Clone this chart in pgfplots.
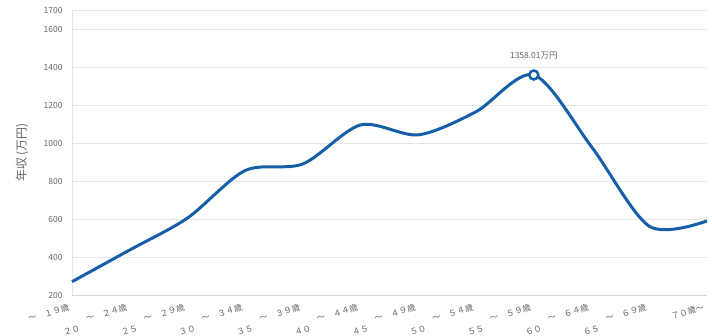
\documentclass[border=0pt]{standalone}
\usepackage{pgfplots}
\pgfplotsset{compat=1.18}
\usepackage{fontspec}
\setmainfont{Noto Sans CJK JP}
\definecolor{lineblue}{RGB}{22,94,168}
\definecolor{gridgray}{RGB}{230,230,230}
\definecolor{axisgray}{RGB}{215,215,215}
\definecolor{txtgray}{RGB}{102,102,102}
\newcommand{\rl}[2]{\raisebox{-7.5bp}{#1}　～　#2}
\begin{document}
\begin{tikzpicture}
\useasboundingbox (-72bp,-41bp) rectangle (640bp,295bp);
\begin{axis}[
  at={(0,0)}, anchor=south west,
  scale only axis, width=635bp, height=285bp,
  xmin=0, xmax=11, ymin=200, ymax=1700,
  ytick={200,400,600,800,1000,1200,1400,1600,1700},
  xtick={0,...,11},
  xticklabels={{～　１９歳},{\rl{２０}{２４歳}},{\rl{２５}{２９歳}},{\rl{３０}{３４歳}},{\rl{３５}{３９歳}},{\rl{４０}{４４歳}},{\rl{４５}{４９歳}},{\rl{５０}{５４歳}},{\rl{５５}{５９歳}},{\rl{６０}{６４歳}},{\rl{６５}{６９歳}},{７０歳～}},
  /pgf/number format/assume math mode=true,
  /pgf/number format/1000 sep={},
  major tick length=0pt,
  ymajorgrids, grid style={gridgray, line width=0.8bp},
  axis x line*=bottom, axis y line*=left,
  x axis line style={axisgray, line width=0.8bp, -},
  y axis line style={gridgray, line width=0.8bp, -},
  yticklabel style={font=\fontsize{8.5}{9}\selectfont, text=txtgray, xshift=-6bp},
  xticklabel style={font=\fontsize{8.5}{9}\selectfont, text=txtgray, inner sep=0pt, xshift=-2bp, yshift=-15bp, rotate=16, anchor=base east},
  ylabel={年収 (万円)},
  ylabel style={at={(axis description cs:-0.0787,0.5)}, anchor=center, font=\fontsize{12}{13}\selectfont, text=txtgray},
  clip=false,
]
\addplot[lineblue, line width=3bp, smooth, tension=0.5] coordinates {
  (0,270) (1,437) (2,605) (3,855) (4,890) (5,1095) (6,1043) (7,1165) (8,1358.01) (9,980) (10,562) (11,590)
};
\addplot[only marks, mark=*, mark size=4.5bp, mark options={fill=white, draw=lineblue, line width=2.5bp}] coordinates {(8,1358.01)};
\node[font=\fontsize{8.5}{9}\selectfont, text=txtgray] at (axis cs:8,1358.01) [yshift=19bp] {1358.01万円};
\end{axis}
\end{tikzpicture}
\end{document}
